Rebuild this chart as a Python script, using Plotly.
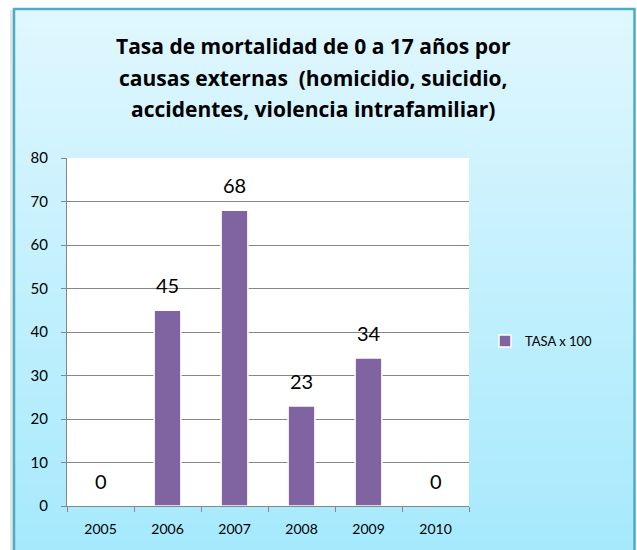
import plotly.graph_objects as go

years = ["2005", "2006", "2007", "2008", "2009", "2010"]
tasa = [0, 45, 68, 23, 34, 0]
series_name = "TASA x 100"
title_lines = [
    "Tasa de mortalidad de 0 a 17 años por",
    "causas externas  (homicidio, suicidio,",
    "accidentes, violencia intrafamiliar)",
]
y_ticks = [0, 10, 20, 30, 40, 50, 60, 70, 80]

W, H = 637, 550
L, R, T, B = 67, 469, 158, 506  # plot area in px
FONT = "Lato"


def px_x(px):
    return (px - L) / (R - L)


def px_y(py):
    return (B - py) / (B - T)


fig = go.Figure()
fig.add_trace(go.Bar(
    x=years, y=tasa, name=series_name,
    marker=dict(color="#8064A2", line=dict(color="white", width=1.5)),
))

shapes = []
top_c = (224, 247, 254)
bot_c = (165, 233, 253)
y_top, y_bot = 8, 560
n = 60
for i in range(n):
    f = (i + 0.5) / n
    c = tuple(round(top_c[k] + (bot_c[k] - top_c[k]) * f) for k in range(3))
    ya = y_top + (y_bot - y_top) * i / n
    yb = y_top + (y_bot - y_top) * (i + 1) / n + 0.8
    shapes.append(dict(type="rect", xref="paper", yref="paper", layer="below",
                       x0=px_x(13), x1=px_x(635), y0=px_y(yb), y1=px_y(ya),
                       fillcolor="rgb(%d,%d,%d)" % c, line=dict(width=0)))
shapes.append(dict(type="rect", xref="paper", yref="paper", layer="below",
                   x0=px_x(10), x1=px_x(13), y0=px_y(560), y1=px_y(10),
                   fillcolor="rgba(0,0,0,0.10)", line=dict(width=0)))
shapes.append(dict(type="rect", xref="paper", yref="paper", layer="below",
                   x0=px_x(14), x1=px_x(634.5), y0=px_y(570), y1=px_y(9),
                   fillcolor="rgba(0,0,0,0)", line=dict(color="#4BACC6", width=2.5)))
# white plot area
shapes.append(dict(type="rect", xref="paper", yref="paper", layer="below",
                   x0=0, x1=1, y0=0, y1=1, fillcolor="white", line=dict(width=0)))

annotations = []
for i, line in enumerate(title_lines):
    annotations.append(dict(text="<b>%s</b>" % line, xref="paper", yref="paper",
                            x=px_x(313), y=px_y(46 + 31.5 * i), xanchor="center",
                            yanchor="middle", showarrow=False,
                            font=dict(family="Open Sans", size=21, color="black")))
for idx, yv in enumerate(tasa):
    annotations.append(dict(text=str(yv), x=idx, y=yv, xref="x", yref="y",
                            yshift=25, yanchor="middle", xanchor="center",
                            showarrow=False,
                            font=dict(family=FONT, size=20, color="black")))

fig.update_layout(
    width=W, height=H,
    margin=dict(l=L, r=W - R, t=T, b=H - B, pad=0, autoexpand=False),
    paper_bgcolor="white", plot_bgcolor="white",
    bargap=0.6,
    shapes=shapes, annotations=annotations,
    showlegend=True,
    legend=dict(x=px_x(485), y=px_y(341), xanchor="left", yanchor="middle",
                bgcolor="rgba(0,0,0,0)", font=dict(family=FONT, size=13, color="black"),
                itemwidth=30),
    font=dict(family=FONT, size=14, color="black"),
    xaxis=dict(type="category", categoryorder="array", categoryarray=years,
               range=[-0.5, len(years) - 0.5]),
)
fig.update_xaxes(showline=True, linecolor="#868686", linewidth=1,
                 ticks="outside", ticklen=5, tickcolor="#868686",
                 tickson="boundaries", ticklabelstandoff=10, automargin=False,
                 tickangle=0,
                 tickfont=dict(family=FONT, size=14, color="black"))
fig.update_yaxes(range=[0, 80], tickvals=y_ticks, showgrid=True, gridcolor="#868686",
                 gridwidth=1, showline=True, linecolor="#868686", linewidth=1,
                 ticks="outside", ticklen=5, tickcolor="#868686", zeroline=False,
                 ticklabelstandoff=10, automargin=False,
                 tickfont=dict(family=FONT, size=15, color="black"))

fig.write_html("out.html", config={"displayModeBar": False},
               post_script="document.body.style.margin='0';document.body.style.overflow='hidden';")
